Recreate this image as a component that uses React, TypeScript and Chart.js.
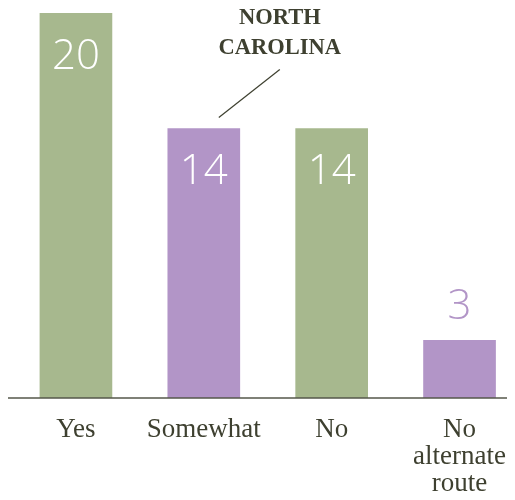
import React, { useEffect, useRef } from "react";
import { Chart, registerables } from "chart.js";

Chart.register(...registerables);

const categories: (string | string[])[] = ["Yes", "Somewhat", "No", ["No", "alternate", "route"]];
const values: number[] = [20, 14, 14, 3];
const barColors: string[] = ["#a7b88e", "#b295c7", "#a7b88e", "#b295c7"];
const annotationLines: string[] = ["NORTH", "CAROLINA"];
const annotatedIndex = 1;

const TEXT = "#3e4030";

const overlayPlugin = {
  id: "overlay",
  afterDatasetsDraw(chart: any) {
    const ctx = chart.ctx as CanvasRenderingContext2D;
    const meta = chart.getDatasetMeta(0);
    const yScale = chart.scales.y;
    const base = yScale.getPixelForValue(0);
    ctx.save();
    // baseline
    ctx.strokeStyle = "#55574a";
    ctx.lineWidth = 1.5;
    ctx.beginPath();
    ctx.moveTo(0, base);
    ctx.lineTo(chart.width, base);
    ctx.stroke();
    // value labels
    ctx.textAlign = "center";
    ctx.textBaseline = "middle";
    ctx.font = '300 42px "Open Sans", Lato, sans-serif';
    meta.data.forEach((bar: any, i: number) => {
      const h = base - bar.y;
      if (h > 80) {
        ctx.fillStyle = "#ffffff";
        ctx.fillText(String(values[i]), bar.x, bar.y + 44);
      } else {
        ctx.fillStyle = barColors[i];
        ctx.fillText(String(values[i]), bar.x, bar.y - 33);
      }
    });
    // annotation
    const ab = meta.data[annotatedIndex];
    if (ab) {
      ctx.strokeStyle = TEXT;
      ctx.lineWidth = 1.2;
      ctx.beginPath();
      ctx.moveTo(ab.x + 15, ab.y - 11);
      ctx.lineTo(ab.x + 76, ab.y - 59);
      ctx.stroke();
      ctx.fillStyle = TEXT;
      ctx.font = 'bold 22.5px "Liberation Serif", serif';
      annotationLines.forEach((t, k) => {
        ctx.fillText(t, ab.x + 76, 10 + k * 30);
      });
    }
    ctx.restore();
  },
};

export default function App() {
  const ref = useRef<HTMLCanvasElement>(null);
  useEffect(() => {
    if (!ref.current) return;
    const chart = new Chart(ref.current, {
      type: "bar",
      data: {
        labels: categories,
        datasets: [
          {
            data: values,
            backgroundColor: barColors,
            barThickness: 72,
          },
        ],
      },
      options: {
        animation: false,
        responsive: true,
        maintainAspectRatio: false,
        layout: { padding: { top: 5, left: 4, right: 0, bottom: -15 } },
        plugins: { legend: { display: false }, tooltip: { enabled: false } },
        scales: {
          y: { display: false, min: 0, max: 20 },
          x: {
            grid: { display: false, drawTicks: false },
            border: { display: false },
            ticks: {
              color: TEXT,
              padding: 18,
              maxRotation: 0,
              autoSkip: false,
              font: { family: '"Liberation Serif", serif', size: 27, lineHeight: 1.0 },
            },
          },
        },
      },
      plugins: [overlayPlugin],
    });
    return () => chart.destroy();
  }, []);
  return (
    <div style={{ width: 507, height: 492, overflow: "hidden" }}>
      <div style={{ width: 516, height: 492, position: "relative" }}>
        <canvas ref={ref} />
      </div>
    </div>
  );
}
